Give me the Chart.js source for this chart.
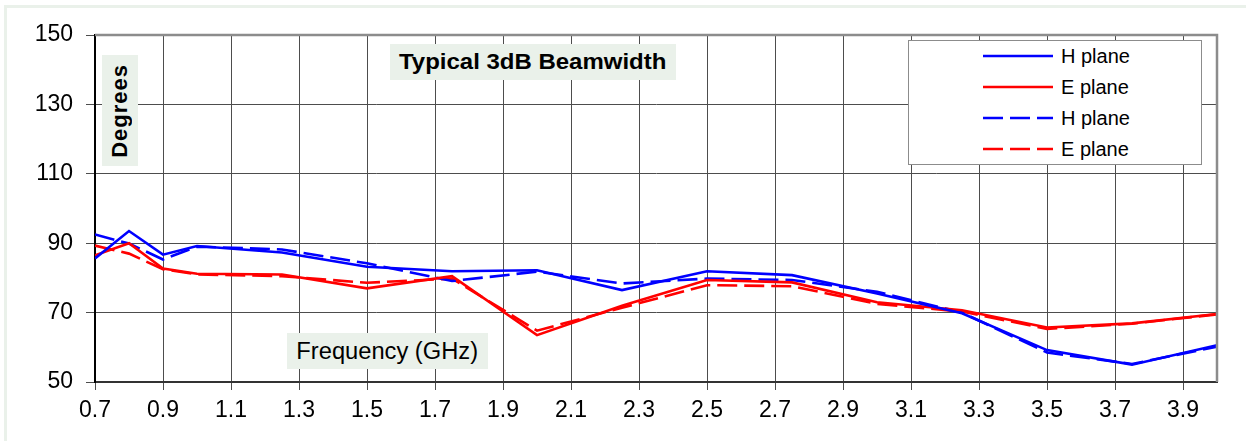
<!DOCTYPE html>
<html>
<head>
<meta charset="utf-8">
<title>Typical 3dB Beamwidth</title>
<script src="https://cdn.jsdelivr.net/npm/chart.js@4/dist/chart.umd.min.js"></script>
<style>
  body { margin: 0; background: #fff; }
  #wrap { position: relative; width: 1246px; height: 441px; overflow: hidden; background: #fff;
          font-family: 'Liberation Sans', Arial, sans-serif; color: #000; }
  #frame { position: absolute; left: 4px; top: 5px; width: 1260px; height: 460px;
           border: 3px solid #eaf1ea; box-sizing: border-box; }
  canvas { position: absolute; left: 0; top: 0; }
  .tag { position: absolute; background: #eaf1ea; display: flex; align-items: center; justify-content: center; }
  #title { left: 390px; top: 44px; width: 286px; height: 36px; font-weight: bold; font-size: 22px; }
  #title span { display: inline-block; transform: scaleX(1.09); }
  #ylab { left: 102px; top: 55px; width: 36px; height: 111px; font-weight: bold; font-size: 22px; }
  #ylab span { writing-mode: vertical-rl; transform: rotate(180deg); letter-spacing: 1px; }
  #xlab { left: 287px; top: 333px; width: 201px; height: 36px; font-size: 23px; }
  #xlab span { display: inline-block; transform: scaleX(1.03); }
  #legend { position: absolute; left: 908px; top: 40px; width: 294px; height: 125px;
            background: #fff; border: 1px solid #8c8c8c; box-sizing: border-box; }
  .row { position: absolute; left: 0; height: 24px; line-height: 24px; font-size: 20px; }
  .row svg { position: absolute; left: 74px; top: 9px; }
  .row span { position: absolute; left: 152px; white-space: nowrap; }
</style>
</head>
<body>
<div id="wrap">
  <div id="frame"></div>
  <canvas id="chart" width="1246" height="441"></canvas>
  <div id="title" class="tag"><span>Typical 3dB Beamwidth</span></div>
  <div id="ylab" class="tag"><span>Degrees</span></div>
  <div id="xlab" class="tag"><span>Frequency (GHz)</span></div>
  <div id="legend"></div>
</div>
<script>
(function () {
  'use strict';

  // ── data ────────────────────────────────────────────────────────
  const freqGHz     = [0.7, 0.8, 0.9, 1.0, 1.25, 1.5, 1.75, 2.0, 2.25, 2.5, 2.75, 3.0, 3.25, 3.5, 3.75, 4.0];
  const hPlaneSolid = [85.6, 93.5, 86.7, 89.2, 87.3, 83.2, 81.9, 82.2, 76.5, 81.9, 80.8, 75.5, 69.8, 59.2, 55.0, 60.6];
  const ePlaneSolid = [86.5, 90.0, 82.7, 81.2, 81.0, 77.0, 80.5, 63.5, 72.0, 79.4, 78.7, 73.0, 70.7, 65.7, 66.9, 69.6];
  const hPlaneDash  = [92.5, 89.9, 85.3, 89.0, 88.2, 84.2, 79.1, 81.8, 78.4, 79.8, 79.4, 76.0, 70.0, 58.5, 55.2, 60.2];
  const ePlaneDash  = [89.3, 87.0, 82.5, 81.0, 80.5, 78.6, 79.8, 64.8, 71.4, 77.9, 77.6, 72.5, 70.3, 65.3, 66.8, 69.5];
  const seriesLabels = ['H plane', 'E plane', 'H plane', 'E plane'];

  const xTicks = [0.7, 0.9, 1.1, 1.3, 1.5, 1.7, 1.9, 2.1, 2.3, 2.5, 2.7, 2.9, 3.1, 3.3, 3.5, 3.7, 3.9];
  const yTicks = [50, 70, 90, 110, 130, 150];

  const blue = '#0000ff';
  const red = '#ff0000';
  const dash = [20, 7];
  const gridColor = '#4d4d4d';
  const tickFont = { family: "'Liberation Sans', Arial, sans-serif", size: 23 };

  const pts = arr => arr.map((v, i) => ({ x: freqGHz[i], y: v }));
  const series = [
    { values: hPlaneSolid, color: blue, dash: [] },
    { values: ePlaneSolid, color: red,  dash: [] },
    { values: hPlaneDash,  color: blue, dash: dash },
    { values: ePlaneDash,  color: red,  dash: dash },
  ];

  // grey frame on top / right of the plot area
  const plotFrame = {
    id: 'plotFrame',
    afterDatasetsDraw(chart) {
      const { ctx, chartArea: a } = chart;
      ctx.save();
      ctx.strokeStyle = '#8c8c8c';
      ctx.lineWidth = 2.5;
      ctx.beginPath();
      ctx.moveTo(a.left, a.top);
      ctx.lineTo(a.right, a.top);
      ctx.lineTo(a.right, a.bottom);
      ctx.stroke();
      ctx.restore();
    }
  };

  new Chart(document.getElementById('chart'), {
    type: 'line',
    data: {
      datasets: series.map((s, i) => ({
        label: seriesLabels[i],
        data: pts(s.values),
        borderColor: s.color,
        backgroundColor: s.color,
        borderDash: s.dash,
        borderWidth: 2.6,
        pointRadius: 0,
        tension: 0,
        fill: false,
      }))
    },
    options: {
      responsive: false,
      animation: false,
      layout: { padding: { left: 0, top: 35, right: 29, bottom: 0 } },
      plugins: { legend: { display: false }, tooltip: { enabled: false } },
      scales: {
        x: {
          type: 'linear',
          min: 0.7,
          max: 4.0,
          afterBuildTicks: s => { s.ticks = xTicks.map(v => ({ value: v })); },
          afterFit: s => { s.height = 59; },
          ticks: { color: '#000', font: tickFont, padding: 7, maxRotation: 0, autoSkip: false,
                   callback: v => v.toFixed(1) },
          grid: { color: gridColor, lineWidth: 1, tickLength: 8, tickColor: gridColor },
          border: { color: '#333', width: 2 },
        },
        y: {
          min: 50,
          max: 150,
          afterBuildTicks: s => { s.ticks = yTicks.map(v => ({ value: v })); },
          afterFit: s => { s.width = 95; },
          ticks: { color: '#000', font: tickFont, padding: 13 },
          grid: { color: gridColor, lineWidth: 1, tickLength: 9, tickColor: gridColor },
          border: { color: '#000', width: 2 },
        },
      },
    },
    plugins: [plotFrame],
  });

  // ── legend box (built from the series) ──────────────────────────
  const legend = document.getElementById('legend');
  series.forEach((s, i) => {
    const row = document.createElement('div');
    row.className = 'row';
    row.style.top = (3 + i * 31) + 'px';
    row.style.width = '100%';
    const dashAttr = s.dash.length ? ` stroke-dasharray="${s.dash.join(' ')}"` : '';
    row.innerHTML =
      `<svg width="70" height="6"><line x1="0" y1="3" x2="70" y2="3" stroke="${s.color}" stroke-width="2.6"${dashAttr}/></svg>` +
      `<span>${seriesLabels[i]}</span>`;
    legend.appendChild(row);
  });
}());
</script>
</body>
</html>
